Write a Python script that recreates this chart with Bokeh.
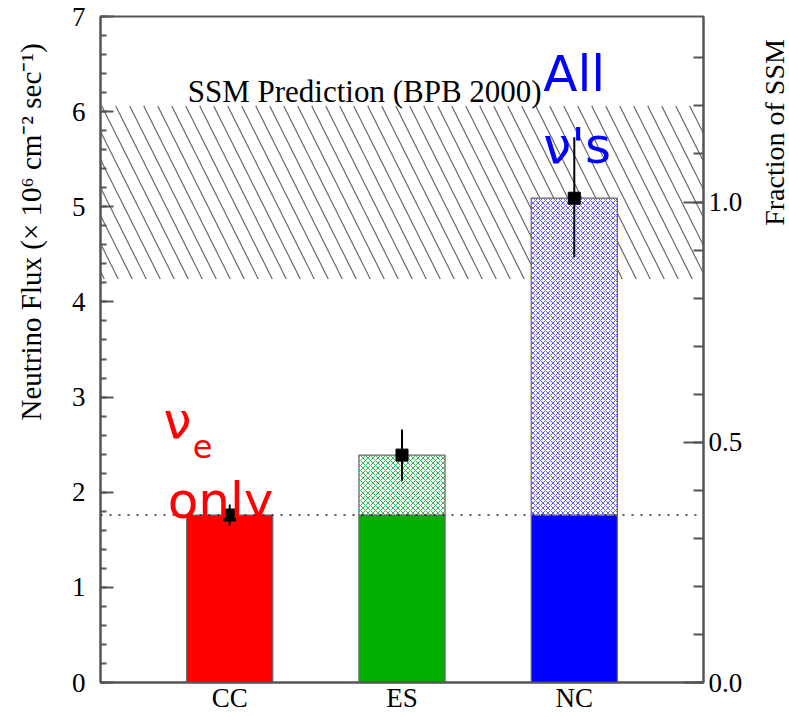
from math import pi
from bokeh.plotting import figure
from bokeh.layouts import row
from bokeh.models import (Range1d, LinearAxis, SingleIntervalTicker, FixedTicker,
                          Label, Span, BoxAnnotation, NumeralTickFormatter)
from bokeh.embed import file_html
from bokeh.resources import INLINE

# ---- data ----
categories = ["CC", "ES", "NC"]
flux = [1.76, 2.39, 5.09]
err_low = [0.11, 0.27, 0.62]
err_high = [0.11, 0.27, 0.64]
ssm_central = 5.05
ssm_low = 4.24
ssm_high = 6.06
bar_colors = ["#ff0000", "#00b000", "#0000ff"]
hatch_colors = ["#ff0000", "#33bb55", "#6060ff"]
y_title = "Neutrino Flux (× 10⁶ cm⁻² sec⁻¹)"
y2_title = "Fraction of SSM"

SERIF = "Liberation Serif"
SANS = "DejaVu Sans"
AXC = "#555555"
H = 717
LEFT_W, RIGHT_W = 55, 29
MAIN_W = 789 - LEFT_W - RIGHT_W

xs = list(range(len(categories)))
cc_flux = flux[0]


def side_fig(w):
    f = figure(width=w, height=H, x_range=Range1d(0, w), y_range=Range1d(0, 7),
               output_backend="svg", toolbar_location=None,
               min_border_left=0, min_border_right=0, min_border_top=16, min_border_bottom=35)
    f.axis.visible = False
    f.grid.visible = False
    f.outline_line_color = None
    f.background_fill_color = "white"
    f.border_fill_color = "white"
    return f


p = figure(width=MAIN_W, height=H, x_range=Range1d(-0.75, 2.75), y_range=Range1d(0, 7),
           output_backend="svg", toolbar_location=None,
           min_border_left=45, min_border_right=57, min_border_top=16, min_border_bottom=35)
p.background_fill_color = "white"
p.border_fill_color = "white"
p.grid.visible = False
p.outline_line_color = AXC
p.outline_line_width = 2

# SSM band
band = BoxAnnotation(bottom=ssm_low, top=ssm_high, fill_color=None, fill_alpha=0,
                     line_color=None, hatch_pattern="left_diagonal_line", hatch_color="#666666",
                     hatch_scale=28, hatch_weight=1.2, level="underlay")
p.add_layout(band)

# solid parts (up to the CC level for ES and NC)
solid_top = [min(f, cc_flux) for f in flux]
p.vbar(x=xs, bottom=0, top=solid_top, width=0.5, fill_color=bar_colors,
       line_color="#666666", line_width=1.2)
# hatched parts for ES and NC (one glyph each, so each keeps its own hatch colour)
for i in xs:
    if flux[i] > cc_flux:
        p.vbar(x=[xs[i]], bottom=cc_flux, top=[flux[i]], width=0.5, fill_color="white",
               hatch_pattern="diagonal_cross", hatch_color=hatch_colors[i], hatch_scale=5,
               hatch_weight=1, line_color="#666666", line_width=1.2)

# dotted CC line
p.add_layout(Span(location=cc_flux, dimension="width", line_dash="2 7",
                  line_color="#222222", line_width=1.5))

# error bars and points
p.segment(x0=xs, y0=[f - e for f, e in zip(flux, err_low)], x1=xs,
          y1=[f + e for f, e in zip(flux, err_high)], line_color="black", line_width=2)
p.scatter(x=xs, y=flux, marker="square", size=12, color="black")

# left axis
ya = p.yaxis[0]
ya.ticker = SingleIntervalTicker(interval=1, num_minor_ticks=5)
ya.major_tick_in = 13
ya.major_tick_out = 0
ya.minor_tick_in = 6
ya.minor_tick_out = 0
ya.axis_line_color = AXC
ya.axis_line_width = 2
ya.major_tick_line_color = AXC
ya.major_tick_line_width = 2
ya.minor_tick_line_color = AXC
ya.minor_tick_line_width = 2
ya.major_label_standoff = 15
ya.major_label_text_font = SERIF
ya.major_label_text_font_size = "27px"
ya.major_label_text_color = "black"

# bottom axis
xa = p.xaxis[0]
xa.ticker = FixedTicker(ticks=xs)
xa.major_label_overrides = {i: c for i, c in zip(xs, categories)}
xa.major_tick_line_color = None
xa.minor_tick_line_color = None
xa.major_tick_out = 0
xa.major_tick_in = 0
xa.axis_line_color = AXC
xa.axis_line_width = 2
xa.major_label_standoff = 0
xa.major_label_text_font = SERIF
xa.major_label_text_font_size = "27px"
xa.major_label_text_color = "black"

# right axis: fraction of SSM
p.extra_y_ranges = {"frac": Range1d(0, 7 / ssm_central)}
ra = LinearAxis(y_range_name="frac", ticker=SingleIntervalTicker(interval=0.5, num_minor_ticks=5),
                formatter=NumeralTickFormatter(format="0.0"))
ra.major_tick_in = 20
ra.major_tick_out = 0
ra.minor_tick_in = 10
ra.minor_tick_out = 0
ra.axis_line_color = AXC
ra.axis_line_width = 2
ra.major_tick_line_color = AXC
ra.major_tick_line_width = 2
ra.minor_tick_line_color = AXC
ra.minor_tick_line_width = 2
ra.major_label_standoff = 5
ra.major_label_text_font = SERIF
ra.major_label_text_font_size = "27px"
ra.major_label_text_color = "black"
p.add_layout(ra, "right")

# annotations
p.add_layout(Label(x=-0.244, y=6.21, text="SSM Prediction (BPB 2000)", text_font=SERIF,
                   text_font_size="31px", text_color="black", text_baseline="alphabetic"))
p.add_layout(Label(x=1.82, y=6.40, text="All", text_font=SANS, text_font_size="50px",
                   text_color="#0000ff", text_baseline="alphabetic"))
p.add_layout(Label(x=1.82, y=5.64, text="ν's", text_font=SANS, text_font_size="50px",
                   text_color="#0000ff", text_baseline="alphabetic"))
p.add_layout(Label(x=-0.384, y=2.75, text="ν", text_font=SANS, text_font_size="50px",
                   text_color="#ff0000", text_baseline="alphabetic"))
p.add_layout(Label(x=-0.215, y=2.48, text="e", text_font=SANS, text_font_size="32px",
                   text_color="#ff0000", text_baseline="alphabetic"))
p.add_layout(Label(x=-0.36, y=1.91, text="only", text_font=SANS, text_font_size="50px",
                   text_color="#ff0000", text_baseline="alphabetic"))

# axis titles in narrow side panels
left = side_fig(LEFT_W)
left.add_layout(Label(x=30, y=2.754, text=y_title, angle=pi / 2, text_align="left",
                      text_baseline="alphabetic", text_font=SERIF, text_font_size="29px",
                      text_color="black"))
right = side_fig(RIGHT_W)
right.add_layout(Label(x=14, y=4.80, text=y2_title, angle=pi / 2, text_align="left",
                       text_baseline="alphabetic", text_font=SERIF, text_font_size="28px",
                       text_color="black"))

layout = row(left, p, right)
open("out.html", "w").write(file_html(layout, INLINE))
